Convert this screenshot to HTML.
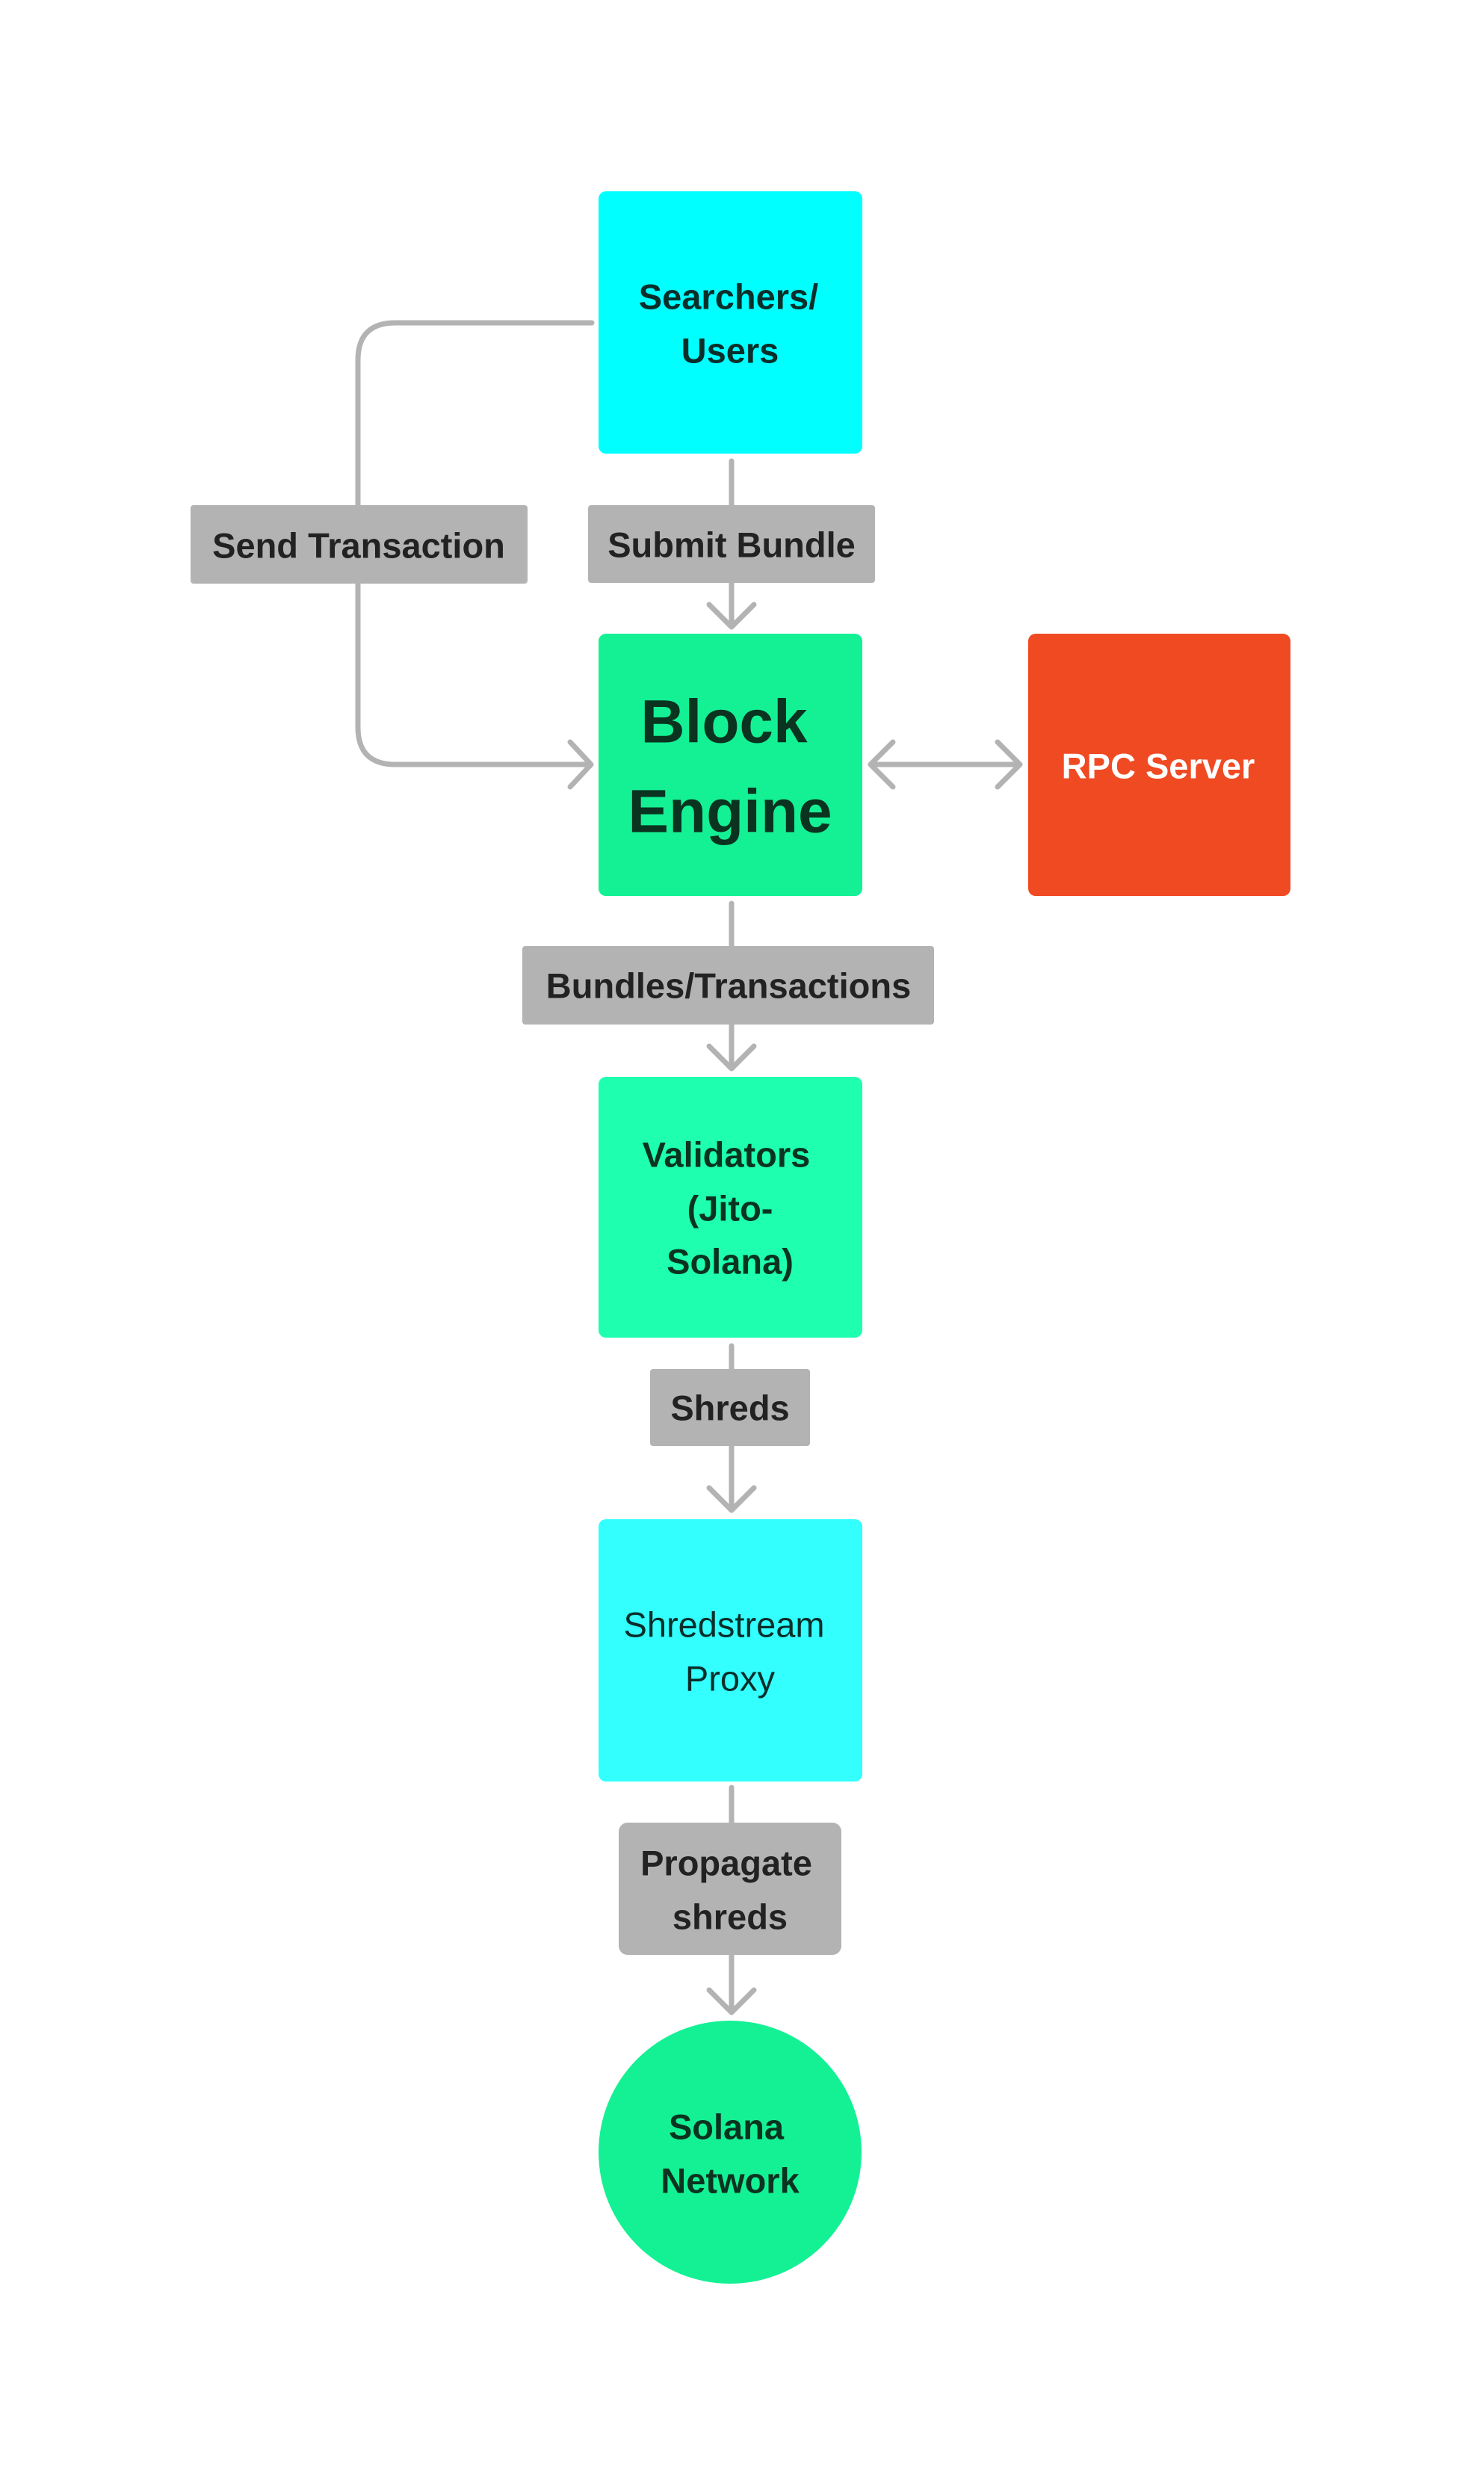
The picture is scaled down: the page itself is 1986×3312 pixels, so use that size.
<!DOCTYPE html>
<html><head><meta charset="utf-8"><style>
html,body{margin:0;padding:0;background:#fff;}
svg{display:block;}
text{font-family:"Liberation Sans",sans-serif;font-weight:bold;text-anchor:middle;dominant-baseline:central;}
</style></head><body>
<svg width="1986" height="3312" viewBox="0 0 1986 3312" xmlns="http://www.w3.org/2000/svg">
<rect width="1986" height="3312" fill="#fff"/>
<g transform="translate(-3,0)">
<g stroke="#B3B3B3" stroke-width="7" fill="none" stroke-linecap="round" stroke-linejoin="round">
  <path d="M795 432 H532 Q482 432 482 482 V973 Q482 1023 532 1023 H792"/>
  <path d="M766 993 L794 1023 L766 1053"/>
  <path d="M982 617 V837"/>
  <path d="M952 809 L982 839 L1012 809"/>
  <path d="M1170 1023 H1366"/>
  <path d="M1198 993 L1168 1023 L1198 1053"/>
  <path d="M1338 993 L1368 1023 L1338 1053"/>
  <path d="M982 1209 V1428"/>
  <path d="M952 1400 L982 1430 L1012 1400"/>
  <path d="M982 1801 V2019"/>
  <path d="M952 1991 L982 2021 L1012 1991"/>
  <path d="M982 2392 V2691"/>
  <path d="M952 2663 L982 2693 L1012 2663"/>
</g>
<rect x="258" y="676" width="451" height="105" rx="4" fill="#B3B3B3"/>
<text x="483" y="730" font-size="47" fill="#222">Send Transaction</text>
<rect x="790" y="676" width="384" height="104" rx="4" fill="#B3B3B3"/>
<text x="982" y="729" font-size="47" fill="#222">Submit Bundle</text>
<rect x="702" y="1266" width="551" height="105" rx="4" fill="#B3B3B3"/>
<text x="978" y="1319" font-size="47" fill="#222">Bundles/Transactions</text>
<rect x="873" y="1832" width="214" height="103" rx="4" fill="#B3B3B3"/>
<text x="980" y="1884" font-size="47" fill="#222">Shreds</text>
<rect x="831" y="2439" width="298" height="177" rx="12" fill="#B3B3B3"/>
<text x="975" y="2493" font-size="47" fill="#222">Propagate</text>
<text x="980" y="2565" font-size="47" fill="#222">shreds</text>
<rect x="804" y="256" width="353" height="351" rx="10" fill="#00FFFF"/>
<text x="978" y="397" font-size="47" fill="#0A2E2A">Searchers/</text>
<text x="980" y="469" font-size="47" fill="#0A2E2A">Users</text>
<rect x="804" y="848" width="353" height="351" rx="10" fill="#14F195"/>
<text x="972" y="966" font-size="82" fill="#0A3320">Block</text>
<text x="980" y="1086" font-size="82" fill="#0A3320">Engine</text>
<rect x="1379" y="848" width="351" height="351" rx="10" fill="#F04A23"/>
<text x="1553" y="1025" font-size="47" fill="#fff">RPC Server</text>
<rect x="804" y="1441" width="353" height="349" rx="10" fill="#1EFFB0"/>
<text x="975" y="1545" font-size="47" fill="#0A3320">Validators</text>
<text x="980" y="1617" font-size="47" fill="#0A3320">(Jito-</text>
<text x="980" y="1688" font-size="47" fill="#0A3320">Solana)</text>
<rect x="804" y="2033" width="353" height="351" rx="10" fill="#33FFFF"/>
<text x="972" y="2174" font-size="47" style="font-weight:normal" fill="#0A2E2A">Shredstream</text>
<text x="980" y="2246" font-size="47" style="font-weight:normal" fill="#0A2E2A">Proxy</text>
<circle cx="980" cy="2880" r="176" fill="#14F195"/>
<text x="975" y="2846" font-size="47" fill="#0A3320">Solana</text>
<text x="980" y="2918" font-size="47" fill="#0A3320">Network</text>
</g>
</svg>
</body></html>
